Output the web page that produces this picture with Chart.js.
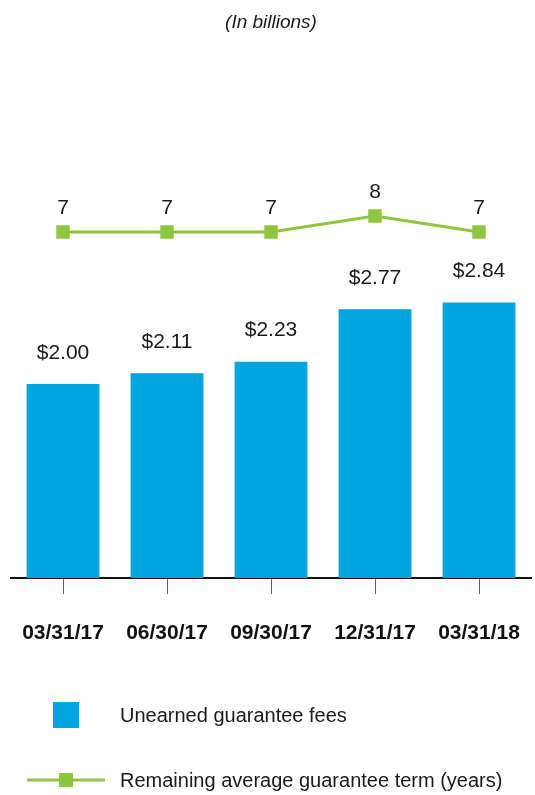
<!DOCTYPE html>
<html>
<head>
<meta charset="utf-8">
<script src="https://cdn.jsdelivr.net/npm/chart.js@4"></script>
<style>
    html, body { margin: 0; padding: 0; background: #fff; }
    #wrap { width: 535px; height: 795px; position: relative; }
</style>
</head>
<body>
<div id="wrap"><canvas id="feeChart"></canvas></div>
<script>
const categories = ["03/31/17", "06/30/17", "09/30/17", "12/31/17", "03/31/18"];
const feeValues = [2.00, 2.11, 2.23, 2.77, 2.84];
const termValues = [7, 7, 7, 8, 7];
const feeName = "Unearned guarantee fees";
const termName = "Remaining average guarantee term (years)";

const FONT = "'Liberation Sans', Arial, sans-serif";
const BLUE = "#00a5df";
const GREEN = "#8dc63f";

// labels above bars and line points
const valueLabels = {
    id: "valueLabels",
    afterDatasetsDraw(chart) {
        const ctx = chart.ctx;
        ctx.save();
        ctx.fillStyle = "#1a1a1a";
        ctx.textAlign = "center";
        ctx.textBaseline = "middle";
        ctx.font = "21px " + FONT;
        chart.getDatasetMeta(0).data.forEach((bar, i) => {
            ctx.fillText("$" + feeValues[i].toFixed(2), bar.x, bar.y - 31);
        });
        chart.getDatasetMeta(1).data.forEach((pt, i) => {
            ctx.fillText(String(termValues[i]), pt.x, pt.y - 24);
        });
        ctx.restore();
    }
};

// stacked legend at the bottom
const stackedLegend = {
    id: "stackedLegend",
    afterDraw(chart) {
        const ctx = chart.ctx;
        ctx.save();
        ctx.fillStyle = BLUE;
        ctx.fillRect(53, 702, 26, 26);
        ctx.strokeStyle = GREEN;
        ctx.lineWidth = 3;
        ctx.beginPath();
        ctx.moveTo(27, 780);
        ctx.lineTo(105, 780);
        ctx.stroke();
        ctx.fillStyle = GREEN;
        ctx.fillRect(59, 773, 14, 14);
        ctx.fillStyle = "#1a1a1a";
        ctx.textAlign = "left";
        ctx.textBaseline = "middle";
        ctx.font = "20px " + FONT;
        ctx.fillText(chart.data.datasets[0].label, 120, 716);
        ctx.fillText(chart.data.datasets[1].label, 120, 781);
        ctx.restore();
    }
};

new Chart(document.getElementById("feeChart"), {
    type: "bar",
    data: {
        labels: categories,
        datasets: [
            {
                label: feeName,
                data: feeValues,
                backgroundColor: BLUE,
                barPercentage: 0.7,
                categoryPercentage: 1,
                yAxisID: "y",
                order: 1
            }, {
                type: "line",
                label: termName,
                data: termValues,
                borderColor: GREEN,
                borderWidth: 3,
                pointStyle: "rect",
                pointRadius: 9.5,
                pointBorderWidth: 0,
                pointBackgroundColor: GREEN,
                tension: 0,
                yAxisID: "y2",
                order: 0
            }
        ]
    },
    options: {
        responsive: true,
        maintainAspectRatio: false,
        animation: false,
        layout: { autoPadding: false, padding: { left: 11, right: 4, top: 0, bottom: 147 } },
        plugins: {
            legend: { display: false },
            tooltip: { enabled: false },
            title: {
                display: true,
                text: "(In billions)",
                color: "#1a1a1a",
                font: { family: FONT, size: 19, style: "italic", weight: "normal", lineHeight: 1.2 },
                padding: { top: 11, bottom: 26.2 }
            }
        },
        scales: {
            x: {
                afterFit: scale => {
                    scale.height = 70;
                    scale.paddingLeft = 0;
                    scale.paddingRight = 0;
                },
                border: { display: true, color: "#111", width: 2 },
                grid: {
                    offset: false,
                    drawOnChartArea: false,
                    drawTicks: true,
                    tickLength: 16,
                    color: "#666",
                    lineWidth: 1
                },
                ticks: {
                    color: "#111",
                    padding: 27,
                    maxRotation: 0,
                    autoSkip: false,
                    font: { family: FONT, size: 21, weight: "bold" }
                }
            },
            y: { display: false, min: 0, max: 5.34 },
            y2: { display: false, min: -14.625, max: 17.75 }
        }
    },
    plugins: [valueLabels, stackedLegend]
});
</script>
</body>
</html>
